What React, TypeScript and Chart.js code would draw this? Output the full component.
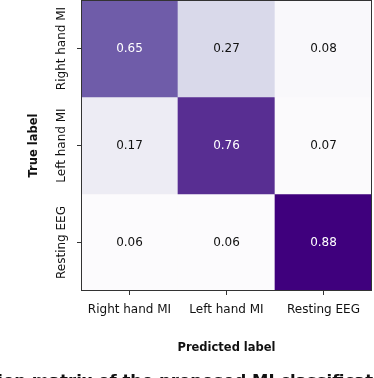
import React, { useEffect, useRef } from "react";
import { Chart, registerables } from "chart.js";

Chart.register(...registerables);

const classLabels = ["Right hand MI", "Left hand MI", "Resting EEG"];
const rowRightHand = [0.65, 0.27, 0.08];
const rowLeftHand = [0.17, 0.76, 0.07];
const rowResting = [0.06, 0.06, 0.88];
const matrixRows = [rowRightHand, rowLeftHand, rowResting];
const xTitle = "Predicted label";
const yTitle = "True label";
const caption = "Confusion matrix of the proposed MI classification";
const captionAnchor = "Confusion matrix of the proposed ";

const FONT = "'DejaVu Sans', sans-serif";
const purples = ["#fcfbfd", "#efedf5", "#dadaeb", "#bcbddc", "#9e9ac8", "#807dba", "#6a51a3", "#54278f", "#3f007d"];

function hexToRgb(h: string) {
  const n = parseInt(h.slice(1), 16);
  return [(n >> 16) & 255, (n >> 8) & 255, n & 255];
}

const allVals = matrixRows.flat();
const vmin = Math.min(...allVals);
const vmax = Math.max(...allVals);
const thresh = (vmin + vmax) / 2;

function cmap(v: number) {
  let t = (v - vmin) / (vmax - vmin);
  t = Math.max(0, Math.min(1, t));
  const pos = t * (purples.length - 1);
  const i = Math.min(purples.length - 2, Math.floor(pos));
  const f = pos - i;
  const a = hexToRgb(purples[i]);
  const b = hexToRgb(purples[i + 1]);
  const c = a.map((x, k) => Math.round(x + (b[k] - x) * f));
  return `rgb(${c[0]},${c[1]},${c[2]})`;
}

const cellPlugin = {
  id: "cellPlugin",
  afterDatasetsDraw(chart: any) {
    const ctx = chart.ctx;
    ctx.save();
    ctx.font = `12px ${FONT}`;
    ctx.textAlign = "center";
    ctx.textBaseline = "middle";
    chart.data.datasets.forEach((_ds: any, di: number) => {
      const meta = chart.getDatasetMeta(di);
      meta.data.forEach((bar: any, i: number) => {
        const v = matrixRows[di][i];
        ctx.fillStyle = v > thresh ? "#ffffff" : "#111111";
        ctx.fillText(v.toFixed(2), bar.x, (bar.y + bar.base) / 2);
      });
    });
    const { left, top, right, bottom } = chart.chartArea;
    ctx.strokeStyle = "#333333";
    ctx.lineWidth = 1;
    ctx.strokeRect(left + 0.5, top + 0.5, right - left - 1, bottom - top - 1);
    const ys = chart.scales.y;
    ctx.fillStyle = "#111111";
    classLabels.forEach((l, i) => {
      const y = ys.getPixelForValue(i);
      ctx.save();
      ctx.translate(62, y);
      ctx.rotate(-Math.PI / 2);
      ctx.fillText(l, 0, 0);
      ctx.restore();
    });
    ctx.restore();
  },
  afterDraw(chart: any) {
    const ctx = chart.ctx;
    ctx.save();
    ctx.font = `bold 16.5px ${FONT}`;
    ctx.fillStyle = "#111111";
    ctx.textAlign = "left";
    ctx.textBaseline = "alphabetic";
    const w = ctx.measureText(captionAnchor).width;
    ctx.fillText(caption, 252 - w, 386);
    ctx.restore();
  },
};

export default function App() {
  const ref = useRef<HTMLCanvasElement | null>(null);
  useEffect(() => {
    document.body.style.margin = "0";
    const canvas = ref.current;
    if (!canvas) return;
    const datasets = matrixRows.map((row, r) => ({
      label: classLabels[r],
      data: row.map(() => [r - 0.5, r + 0.5]),
      backgroundColor: row.map((v) => cmap(v)),
      borderWidth: 0,
      grouped: false,
      barPercentage: 1,
      categoryPercentage: 1,
    }));
    const chart = new Chart(canvas, {
      type: "bar",
      data: { labels: classLabels, datasets: datasets as any },
      options: {
        animation: false,
        responsive: true,
        maintainAspectRatio: false,
        layout: { padding: { top: 0, right: 2, left: 0, bottom: 0 } },
        plugins: { legend: { display: false }, tooltip: { enabled: false } },
        scales: {
          x: {
            type: "category",
            offset: true,
            grid: { drawOnChartArea: false, drawTicks: true, tickLength: 4, color: "#333333", offset: false },
            border: { display: false },
            ticks: { color: "#111111", font: { family: FONT, size: 12 }, padding: 8, maxRotation: 0, minRotation: 0, autoSkip: false },
            title: { display: true, text: xTitle, color: "#111111", font: { family: FONT, size: 11.5, weight: "bold" }, padding: { top: 0, bottom: 23 } },
            afterFit: (s: any) => { s.height = 87; },
          },
          y: {
            type: "linear",
            min: -0.5,
            max: 2.5,
            reverse: true,
            afterBuildTicks: (s: any) => { s.ticks = [0, 1, 2].map((v) => ({ value: v })); },
            grid: { drawOnChartArea: false, drawTicks: true, tickLength: 4, color: "#333333" },
            border: { display: false },
            ticks: { display: false },
            title: { display: true, text: yTitle, color: "#111111", font: { family: FONT, size: 11.5, weight: "bold" }, padding: { top: 27, bottom: 0 } },
            afterFit: (s: any) => { s.width = 81; },
          },
        },
      },
      plugins: [cellPlugin],
    });
    return () => chart.destroy();
  }, []);
  return (
    <div style={{ position: "absolute", left: 0, top: 0, width: 374, height: 378 }}>
      <canvas ref={ref} />
    </div>
  );
}
